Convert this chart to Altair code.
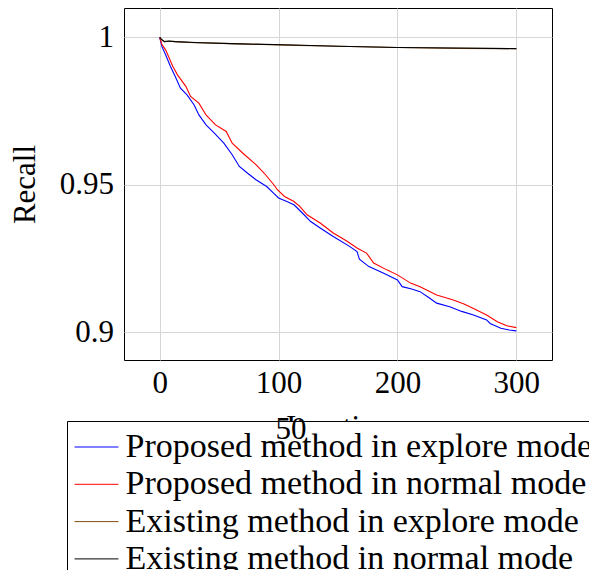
import altair as alt
import pandas as pd

series_names = [
    "Proposed method in explore mode",
    "Proposed method in normal mode",
    "Existing method in explore mode",
    "Existing method in normal mode",
]
series_colors = ["#0000ff", "#ff0000", "#804a14", "#000000"]

blue_x = [0, 2, 5, 9, 13, 17.5, 23, 29, 33, 39, 46, 54, 61, 67, 74, 81, 90, 96, 100, 107,
          113, 120, 127, 135, 146, 160, 166, 168, 176, 188, 200, 204, 212, 219, 226, 233,
          244, 254, 264, 275, 278, 287, 294, 300]
blue_y = [1.0, 0.9968, 0.9941, 0.9902, 0.9868, 0.9828, 0.9805, 0.9771, 0.9737, 0.9703,
          0.9675, 0.9641, 0.9602, 0.9562, 0.9539, 0.9517, 0.9494, 0.9471, 0.9455, 0.9443,
          0.9432, 0.9404, 0.9375, 0.9353, 0.9324, 0.9290, 0.9273, 0.9247, 0.9222, 0.9200,
          0.9177, 0.9154, 0.9146, 0.9137, 0.9118, 0.9098, 0.9086, 0.9070, 0.9058, 0.9041,
          0.9029, 0.9013, 0.9007, 0.9004]

red_x = [0, 2, 5, 11, 15, 22, 26, 33, 39, 47, 56, 61, 70, 81, 88, 96, 99, 105, 113, 118,
         124, 135, 146, 158, 166, 174, 180, 191, 200, 211, 219, 233, 247, 256, 264, 275,
         284, 292, 300]
red_y = [1.0, 0.9975, 0.9958, 0.9902, 0.9873, 0.9834, 0.9800, 0.9777, 0.9737, 0.9703,
         0.9681, 0.9641, 0.9607, 0.9568, 0.9539, 0.9500, 0.9483, 0.9460, 0.9443, 0.9426,
         0.9398, 0.9370, 0.9336, 0.9307, 0.9285, 0.9268, 0.9234, 0.9211, 0.9194, 0.9166,
         0.9154, 0.9126, 0.9109, 0.9095, 0.9080, 0.9058, 0.9035, 0.9021, 0.9015]

existing_x = [0, 2, 4, 8, 13, 30, 60, 105, 150, 200, 250, 300]
brown_y = [1.0, 0.9991, 0.9986, 0.9987, 0.9986, 0.9982, 0.9979, 0.9974, 0.9970, 0.9966, 0.9963, 0.9962]
black_y = [1.0, 0.9992, 0.9986, 0.9988, 0.9986, 0.9983, 0.9979, 0.9975, 0.9970, 0.9966, 0.9964, 0.9962]

x_ticks = [0, 100, 200, 300]
y_ticks = [0.9, 0.95, 1.0]

stray_label = ["50"]

all_x = [blue_x, red_x, existing_x, existing_x]
all_y = [blue_y, red_y, brown_y, black_y]

frames = []
for name, xs, ys in zip(series_names, all_x, all_y):
    frames.append(pd.DataFrame({"series": name, "x": xs, "y": ys, "idx": range(len(xs))}))
df = pd.concat(frames, ignore_index=True)

FONT = "Liberation Serif"

color = alt.Color(
    "series:N",
    scale=alt.Scale(domain=series_names, range=series_colors),
    legend=alt.Legend(
        title=None,
        orient="none",
        legendX=-57,
        legendY=413,
        direction="vertical",
        symbolType="M-1.33,0H1.33",
        symbolSize=1089,
        symbolOffset=3.5,
        symbolStrokeWidth=1,
        symbolFillColor="transparent",
        labelFont=FONT,
        labelFontSize=34,
        labelColor="black",
        labelOffset=12,
        labelLimit=2000,
        padding=9,
        rowPadding=3.3,
        strokeColor="black",
    ),
)

x_enc = alt.X(
    "x:Q",
    scale=alt.Scale(domain=[-30, 330], nice=False, zero=False),
    axis=alt.Axis(values=x_ticks, title="Iteration", labelPadding=8, titlePadding=14),
)
y_enc = alt.Y(
    "y:Q",
    scale=alt.Scale(domain=[0.8905, 1.0100], nice=False, zero=False),
    axis=alt.Axis(values=y_ticks, format="~g", title="Recall", labelPadding=10.5, titlePadding=18),
)

base = alt.Chart(df)
layers = []
for name in series_names:
    layers.append(
        base.transform_filter(alt.datum.series == name)
        .mark_line(strokeWidth=1.1, clip=True)
        .encode(x=x_enc, y=y_enc, color=color, order="idx:Q")
    )

cover = alt.Chart(pd.DataFrame({"a": [0]})).mark_rect(color="white").encode(
    x=alt.value(-57), x2=alt.value(480), y=alt.value(413), y2=alt.value(600)
)

stray = alt.Chart(pd.DataFrame({"t": stray_label})).mark_text(
    font=FONT, fontSize=31, align="center", baseline="alphabetic", color="black"
).encode(x=alt.value(167), y=alt.value(431), text="t:N")

chart = alt.layer(*layers, cover, stray).properties(
    width=428,
    height=352,
    autosize=alt.AutoSizeParams(type="none"),
    padding={"left": 116, "top": 0, "right": 37, "bottom": 210},
).configure_view(
    stroke="black", strokeWidth=1
).configure_axis(
    grid=True,
    gridColor="#d6d6d6",
    gridWidth=1,
    domain=False,
    ticks=False,
    tickSize=0,
    labelFont=FONT,
    labelFontSize=31,
    labelColor="black",
    titleFont=FONT,
    titleFontSize=31,
    titleFontWeight="normal",
    titleColor="black",
)

chart.save("out.html", embed_options={"renderer": "svg", "actions": False})
